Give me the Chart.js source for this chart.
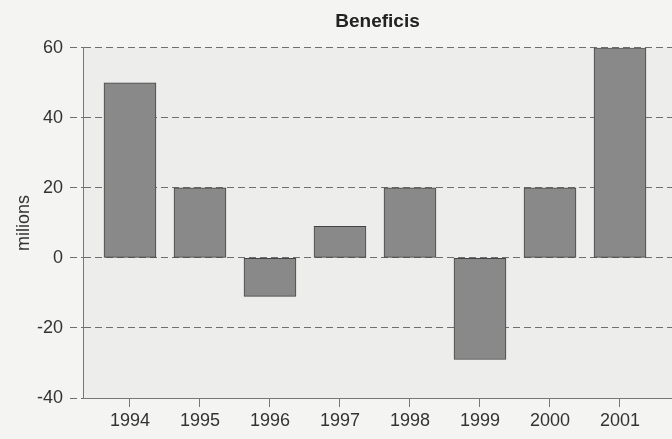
<!DOCTYPE html>
<html>
<head>
<meta charset="utf-8">
<script src="https://cdn.jsdelivr.net/npm/chart.js@4"></script>
<style>
html,body{margin:0;padding:0;background:#f4f4f3;}
#wrap{width:672px;height:439px;}
</style>
</head>
<body>
<div id="wrap"><canvas id="c" width="672" height="439"></canvas></div>
<script>
const categories = ["1994","1995","1996","1997","1998","1999","2000","2001"];
const beneficis = [50, 20, -11, 9, 20, -29, 20, 60];
const yTicks = [-40, -20, 0, 20, 40, 60];
const chartTitle = "Beneficis";
const yTitle = "milions";

const FONT = "'Liberation Sans', Arial, Helvetica, sans-serif";
const TEXT = "#333333";

const bgPlugin = {
  id: 'bg',
  beforeDraw(chart) {
    const {ctx, chartArea: a} = chart;
    ctx.save();
    ctx.fillStyle = '#f4f4f3';
    ctx.fillRect(0, 0, chart.width, chart.height);
    ctx.fillStyle = '#ededec';
    ctx.fillRect(a.left, a.top, a.right - a.left, a.bottom - a.top);
    ctx.restore();
  }
};

new Chart(document.getElementById('c'), {
  type: 'bar',
  data: {
    datasets: [{
      data: categories.map((c, i) => ({x: i, y: beneficis[i]})),
      backgroundColor: '#898989',
      borderColor: '#444444',
      borderWidth: 1,
      borderSkipped: false,
      barThickness: 52
    }]
  },
  options: {
    responsive: false,
    animation: false,
    layout: {padding: 0},
    plugins: {
      legend: {display: false},
      tooltip: {enabled: false},
      title: {
        display: true,
        text: chartTitle,
        fullSize: false,
        color: '#222',
        font: {family: FONT, size: 19, weight: 'bold'},
        padding: {top: 10, bottom: 15}
      }
    },
    scales: {
      x: {
        type: 'linear',
        offset: false,
        min: -0.671,
        max: 7.743,
        afterFit(s) { s.height = 41; },
        afterBuildTicks(s) { s.ticks = categories.map((c, i) => ({value: i})); },
        ticks: {
          includeBounds: false,
          stepSize: 1,
          padding: 3,
          color: TEXT,
          font: {family: FONT, size: 18},
          maxRotation: 0,
          autoSkip: false,
          callback: (v) => categories[v]
        },
        grid: {
          offset: false,
          drawOnChartArea: false,
          drawTicks: true,
          tickLength: 9,
          tickColor: '#777'
        },
        border: {display: true, color: '#777', width: 1}
      },
      y: {
        min: -40,
        max: 60,
        afterFit(s) { s.width = 83; },
        afterBuildTicks(s) { s.ticks = yTicks.map(v => ({value: v})); },
        ticks: {
          padding: 7,
          color: TEXT,
          font: {family: FONT, size: 18}
        },
        grid: {
          color: '#6f6f6f',
          lineWidth: 1,
          tickLength: 13,
          tickColor: '#6f6f6f',
          tickBorderDash: [7, 4]
        },
        border: {display: true, color: '#777', width: 1, dash: [7, 4]},
        title: {
          display: true,
          text: yTitle,
          color: TEXT,
          font: {family: FONT, size: 18},
          padding: {top: 13, bottom: 4}
        }
      }
    }
  },
  plugins: [bgPlugin]
});
</script>
</body>
</html>
